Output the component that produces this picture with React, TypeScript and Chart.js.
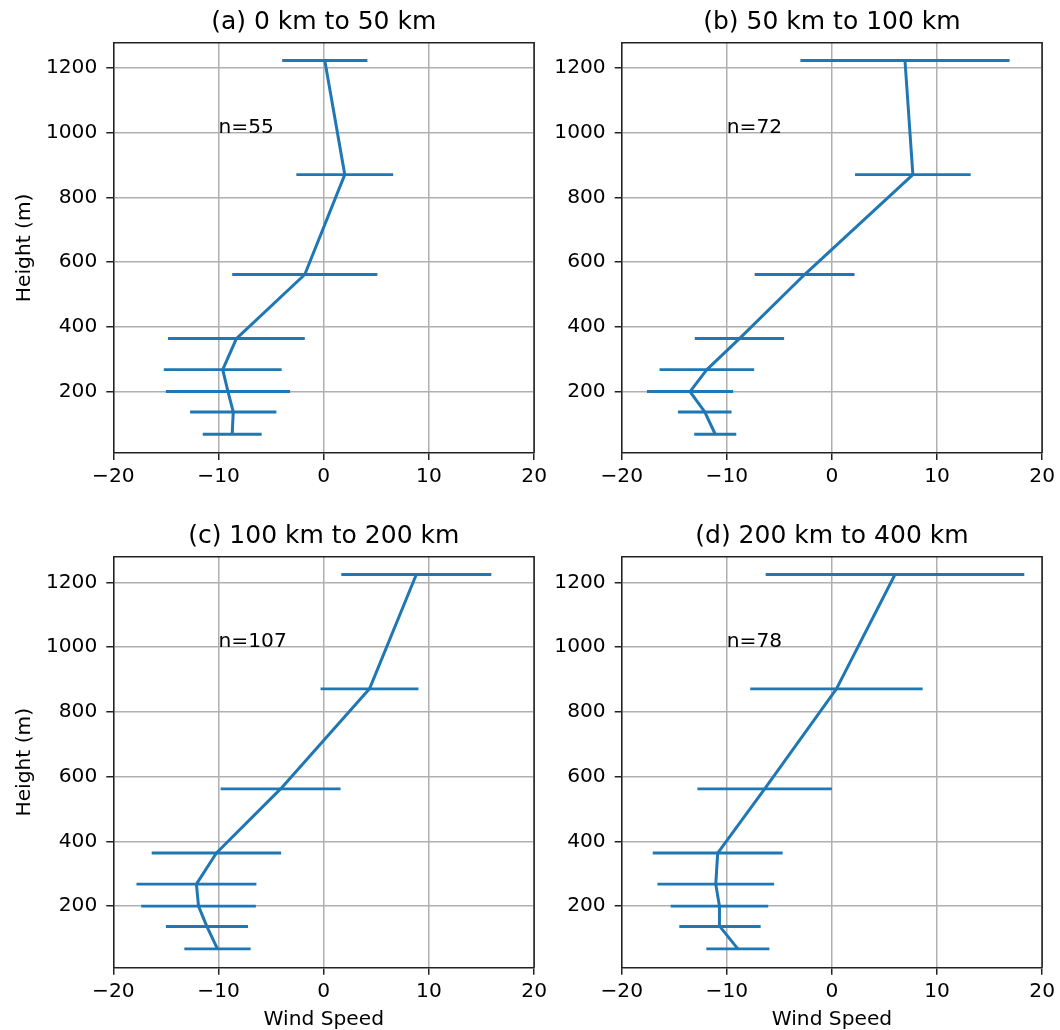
import React, { useEffect, useRef } from 'react';
import { Chart, registerables } from 'chart.js';

Chart.register(...registerables);

// ---- Data ----
const heights = [68, 137, 200, 268, 364, 562, 871, 1224];

const meanA = [-8.7, -8.6, -9.1, -9.6, -8.3, -1.8, 2.0, 0.1];
const stdA = [2.8, 4.1, 5.9, 5.6, 6.5, 6.9, 4.6, 4.05];

const meanB = [-11.1, -12.1, -13.5, -11.9, -8.8, -2.6, 7.7, 6.95];
const stdB = [2.0, 2.55, 4.1, 4.5, 4.25, 4.75, 5.5, 9.95];

const meanC = [-10.1, -11.1, -11.9, -12.1, -10.2, -4.1, 4.35, 8.8];
const stdC = [3.15, 3.9, 5.45, 5.7, 6.15, 5.7, 4.65, 7.13];

const meanD = [-8.95, -10.65, -10.7, -11.05, -10.87, -6.4, 0.43, 6.0];
const stdD = [3.0, 3.87, 4.64, 5.55, 6.18, 6.4, 8.2, 12.3];

const panelTitles = ['(a) 0 km to 50 km', '(b) 50 km to 100 km', '(c) 100 km to 200 km', '(d) 200 km to 400 km'];
const sampleCounts = [55, 72, 107, 78];

const xTicks = [-20, -10, 0, 10, 20];
const yTicks = [200, 400, 600, 800, 1000, 1200];
const xRange = [-20, 20];
const yRange = [10, 1279];
const annotX = -10;
const annotY = 1000;

const BLUE = '#1f77b4';
const FONT = '"DejaVu Sans", "Liberation Sans", sans-serif';
const LABEL_SIZE = 20.2;
const TITLE_SIZE = 25;

Chart.defaults.font.family = FONT;
Chart.defaults.color = '#000';

const fmt = (v: number) => String(v).replace('-', '\u2212');

type PanelProps = {
  title: string;
  mean: number[];
  std: number[];
  n: number;
  left: number;
  top: number;
  width: number;
  height: number;
  yAxisWidth: number;
  padRight: number;
  titlePadTop: number;
  titlePadBottom: number;
  xAxisHeight: number;
  showYTitle: boolean;
  showXTitle: boolean;
};

function Panel(p: PanelProps) {
  const ref = useRef<HTMLCanvasElement | null>(null);

  useEffect(() => {
    const canvas = ref.current;
    if (!canvas) return;

    const boxPlugin = {
      id: 'boxFrame',
      afterDraw(chart: any) {
        const { ctx, chartArea } = chart;
        ctx.save();
        ctx.strokeStyle = '#222';
        ctx.lineWidth = 1.5;
        ctx.beginPath();
        ctx.moveTo(chartArea.left, chartArea.top);
        ctx.lineTo(chartArea.right, chartArea.top);
        ctx.lineTo(chartArea.right, chartArea.bottom);
        ctx.stroke();
        ctx.restore();
      },
    };

    const textPlugin = {
      id: 'nText',
      afterDatasetsDraw(chart: any) {
        const { ctx, scales } = chart;
        const px = scales.x.getPixelForValue(annotX);
        const py = scales.y.getPixelForValue(annotY);
        ctx.save();
        ctx.font = `${LABEL_SIZE}px ${FONT}`;
        ctx.fillStyle = '#000';
        ctx.textAlign = 'left';
        ctx.textBaseline = 'alphabetic';
        ctx.fillText(`n=${p.n}`, px, py);
        ctx.restore();
      },
    };

    const lineData = heights.map((h, i) => ({ x: p.mean[i], y: h }));
    const errorSets = heights.map((h, i) => ({
      data: [
        { x: p.mean[i] - p.std[i], y: h },
        { x: p.mean[i] + p.std[i], y: h },
      ],
      showLine: true,
      borderColor: BLUE,
      backgroundColor: BLUE,
      borderWidth: 2.9,
      pointRadius: 0,
      tension: 0,
    }));

    const chart = new Chart(canvas, {
      type: 'scatter',
      data: {
        datasets: [
          {
            data: lineData,
            showLine: true,
            borderColor: BLUE,
            backgroundColor: BLUE,
            borderWidth: 3,
            borderJoinStyle: 'round',
            pointRadius: 0,
            tension: 0,
          },
          ...errorSets,
        ] as any,
      },
      options: {
        animation: false,
        responsive: false,
        events: [],
        layout: {
          autoPadding: false,
          padding: { left: 0, right: p.padRight, top: 0, bottom: 0 },
        },
        plugins: {
          legend: { display: false },
          tooltip: { enabled: false },
          title: {
            display: true,
            fullSize: false,
            text: p.title,
            color: '#000',
            font: { size: TITLE_SIZE, weight: 'normal', family: FONT, lineHeight: 1.2 },
            padding: { top: p.titlePadTop, bottom: p.titlePadBottom },
          },
        },
        scales: {
          x: {
            type: 'linear',
            min: xRange[0],
            max: xRange[1],
            afterBuildTicks: (s: any) => {
              s.ticks = xTicks.map((v) => ({ value: v }));
            },
            afterFit: (s: any) => {
              s.height = p.xAxisHeight;
            },
            ticks: {
              callback: (v: any) => fmt(v),
              padding: 5,
              font: { size: LABEL_SIZE, family: FONT },
              color: '#000',
              maxRotation: 0,
              autoSkip: false,
            },
            grid: {
              color: '#b0b0b0',
              lineWidth: 1.5,
              tickColor: '#222',
              tickLength: 7,
              tickWidth: 1.5,
            },
            border: { color: '#222', width: 1.5 },
            title: {
              display: p.showXTitle,
              text: 'Wind Speed',
              color: '#000',
              font: { size: LABEL_SIZE, family: FONT, lineHeight: 1.2 },
              padding: { top: 0, bottom: -1.5 },
            },
          },
          y: {
            type: 'linear',
            min: yRange[0],
            max: yRange[1],
            afterBuildTicks: (s: any) => {
              s.ticks = yTicks.map((v) => ({ value: v }));
            },
            afterFit: (s: any) => {
              s.width = p.yAxisWidth;
            },
            ticks: {
              callback: (v: any) => fmt(v),
              padding: 9,
              font: { size: LABEL_SIZE, family: FONT },
              color: '#000',
              autoSkip: false,
            },
            grid: {
              color: '#b0b0b0',
              lineWidth: 1.5,
              tickColor: '#222',
              tickLength: 7,
              tickWidth: 1.5,
            },
            border: { color: '#222', width: 1.5 },
            title: {
              display: p.showYTitle,
              text: 'Height (m)',
              color: '#000',
              font: { size: LABEL_SIZE, family: FONT, lineHeight: 1.2 },
              padding: { top: 13, bottom: 0 },
            },
          },
        },
      } as any,
      plugins: [boxPlugin, textPlugin],
    });

    return () => {
      chart.destroy();
    };
  }, []);

  return (
    <canvas
      ref={ref}
      width={p.width}
      height={p.height}
      style={{ position: 'absolute', left: p.left, top: p.top, width: p.width, height: p.height }}
    />
  );
}

export default function App() {
  return (
    <div style={{ position: 'absolute', left: 0, top: 0, width: 1060, height: 1030, background: '#fff', overflow: 'hidden' }}>
      <Panel
        title={panelTitles[0]}
        mean={meanA}
        std={stdA}
        n={sampleCounts[0]}
        left={0}
        top={0}
        width={552}
        height={515}
        yAxisWidth={113.3}
        padRight={15.3}
        titlePadTop={7.2}
        titlePadBottom={5.5}
        xAxisHeight={62}
        showYTitle={true}
        showXTitle={false}
      />
      <Panel
        title={panelTitles[1]}
        mean={meanB}
        std={stdB}
        n={sampleCounts[1]}
        left={552}
        top={0}
        width={508}
        height={515}
        yAxisWidth={69.7}
        padRight={14.3}
        titlePadTop={7.2}
        titlePadBottom={5.5}
        xAxisHeight={62}
        showYTitle={false}
        showXTitle={false}
      />
      <Panel
        title={panelTitles[2]}
        mean={meanC}
        std={stdC}
        n={sampleCounts[2]}
        left={0}
        top={515}
        width={552}
        height={515}
        yAxisWidth={113.3}
        padRight={15.3}
        titlePadTop={6.2}
        titlePadBottom={5.5}
        xAxisHeight={62.3}
        showYTitle={true}
        showXTitle={true}
      />
      <Panel
        title={panelTitles[3]}
        mean={meanD}
        std={stdD}
        n={sampleCounts[3]}
        left={552}
        top={515}
        width={508}
        height={515}
        yAxisWidth={69.7}
        padRight={14.3}
        titlePadTop={6.2}
        titlePadBottom={5.5}
        xAxisHeight={62.3}
        showYTitle={false}
        showXTitle={true}
      />
    </div>
  );
}
